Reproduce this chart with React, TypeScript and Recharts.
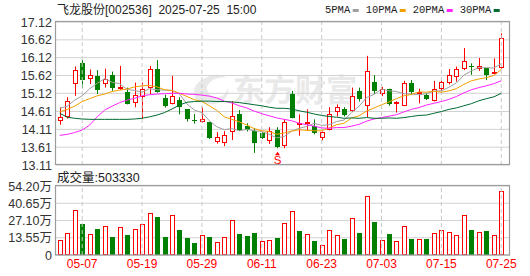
import React from "react";
import {
  ComposedChart,
  Bar,
  Line,
  XAxis,
  YAxis,
  CartesianGrid,
  ReferenceLine,
} from "recharts";

const dates = [
  "04-29", "04-30", "05-06", "05-07", "05-08", "05-09", "05-12", "05-13", "05-14", "05-15",
  "05-16", "05-19", "05-20", "05-21", "05-22", "05-23", "05-26", "05-27", "05-28", "05-29",
  "05-30", "06-03", "06-04", "06-05", "06-06", "06-09", "06-10", "06-11", "06-12", "06-13",
  "06-16", "06-17", "06-18", "06-19", "06-20", "06-23", "06-24", "06-25", "06-26", "06-27",
  "06-30", "07-01", "07-02", "07-03", "07-04", "07-07", "07-08", "07-09", "07-10", "07-11",
  "07-14", "07-15", "07-16", "07-17", "07-18", "07-21", "07-22", "07-23", "07-24", "07-25",
];

const opens = [
  14.34, 14.46, 15.37, 15.97, 15.51, 15.61, 15.37, 15.63, 15.28, 15.16,
  14.84, 15.03, 15.28, 15.79, 14.98, 14.83, 14.93, 14.67, 14.37, 14.31,
  14.31, 13.75, 13.74, 14.03, 14.53, 14.19, 14.06, 14.0, 13.79, 14.09,
  13.64, 15.1, 14.23, 14.25, 14.19, 13.86, 14.09, 14.59, 14.67, 14.62,
  15.19, 14.77, 15.44, 15.1, 15.23, 14.81, 14.77, 15.4, 15.12, 15.08,
  14.9, 15.23, 15.4, 15.57, 15.79, 15.9, 15.81, 15.82, 15.68, 15.82,
];

const highs = [
  14.73, 15.01, 15.87, 16.05, 15.79, 15.77, 15.81, 15.73, 15.89, 15.28,
  15.42, 15.42, 15.89, 16.05, 15.08, 15.61, 15.01, 14.68, 14.54, 14.73,
  14.32, 14.03, 14.06, 14.9, 14.65, 14.28, 14.14, 14.03, 14.17, 14.17,
  14.39, 15.19, 14.53, 14.67, 14.39, 14.05, 14.73, 14.81, 14.73, 15.28,
  15.28, 16.17, 15.63, 15.3, 15.25, 14.9, 15.47, 15.49, 15.25, 15.13,
  15.47, 15.5, 15.8, 15.87, 16.39, 15.96, 16.11, 15.83, 16.1, 16.8,
];

const lows = [
  14.24, 14.41, 15.05, 15.26, 15.38, 15.1, 15.28, 15.19, 15.21, 14.81,
  14.73, 14.41, 15.1, 15.14, 14.72, 14.81, 14.53, 14.33, 14.27, 14.3,
  13.84, 13.71, 13.64, 13.81, 14.06, 14.05, 13.45, 13.84, 13.7, 13.58,
  13.58, 14.42, 13.93, 14.09, 13.97, 13.8, 14.08, 14.47, 14.47, 14.6,
  14.89, 14.45, 15.1, 15.04, 14.77, 14.58, 14.76, 15.1, 14.84, 14.93,
  14.89, 15.19, 15.37, 15.45, 15.77, 15.64, 15.75, 15.49, 15.66, 15.81,
];

const closes = [
  14.45, 14.9, 15.77, 15.49, 15.63, 15.22, 15.52, 15.27, 15.31, 14.83,
  15.08, 15.25, 15.79, 15.17, 14.77, 15.04, 14.73, 14.39, 14.34, 14.4,
  13.88, 13.9, 13.96, 14.49, 14.1, 14.08, 13.72, 13.87, 14.06, 13.61,
  14.31, 14.44, 14.29, 14.32, 14.02, 14.04, 14.55, 14.73, 14.51, 15.05,
  14.96, 15.74, 15.19, 15.25, 14.81, 14.88, 15.4, 15.15, 15.17, 14.95,
  15.25, 15.45, 15.63, 15.79, 16.02, 15.86, 15.88, 15.64, 15.73, 16.66,
];

const volumes = [
  120000, 172000, 354000, 245000, 164000, 206000, 227000, 143000, 219000, 159000,
  206000, 242000, 328000, 300000, 143000, 313000, 198000, 136000, 96000, 156000,
  143000, 104000, 141000, 274000, 167000, 151000, 175000, 109000, 120000, 136000,
  250000, 344000, 190000, 164000, 112000, 78000, 195000, 156000, 128000, 289000,
  175000, 461000, 261000, 117000, 164000, 109000, 227000, 128000, 125000, 122000,
  172000, 195000, 180000, 156000, 313000, 198000, 180000, 190000, 156000, 503330,
];

const ma5 = [
  14.7, 14.76, 14.93, 15.05, 15.25, 15.4, 15.53, 15.43, 15.39, 15.23,
  15.2, 15.15, 15.25, 15.22, 15.21, 15.2, 15.1, 14.82, 14.65, 14.58,
  14.35, 14.18, 14.1, 14.13, 14.07, 14.11, 14.07, 14.05, 13.97, 13.87,
  13.91, 14.06, 14.14, 14.19, 14.28, 14.22, 14.24, 14.33, 14.37, 14.58,
  14.76, 15.0, 15.09, 15.24, 15.19, 15.17, 15.11, 15.1, 15.08, 15.11,
  15.18, 15.19, 15.29, 15.41, 15.63, 15.75, 15.84, 15.84, 15.83, 15.95,
];

const ma10 = [
  14.6, 14.67, 14.76, 14.89, 14.97, 15.05, 15.1, 15.17, 15.21, 15.24,
  15.3, 15.33, 15.34, 15.3, 15.22, 15.2, 15.12, 15.03, 14.94, 14.89,
  14.77, 14.64, 14.46, 14.39, 14.32, 14.23, 14.13, 14.07, 14.05, 13.97,
  14.01, 14.06, 14.1, 14.08, 14.07, 14.07, 14.15, 14.24, 14.28, 14.43,
  14.49, 14.62, 14.71, 14.8, 14.88, 14.97, 15.05, 15.09, 15.16, 15.15,
  15.18, 15.15, 15.19, 15.25, 15.37, 15.47, 15.52, 15.56, 15.62, 15.79,
];

const ma20 = [
  13.94, 13.97, 14.02, 14.09, 14.23, 14.46, 14.65, 14.76, 14.86, 14.93,
  14.98, 15.05, 15.08, 15.1, 15.11, 15.12, 15.12, 15.1, 15.09, 15.07,
  15.04, 14.99, 14.9, 14.85, 14.77, 14.71, 14.62, 14.55, 14.49, 14.43,
  14.39, 14.35, 14.28, 14.24, 14.2, 14.15, 14.14, 14.16, 14.16, 14.2,
  14.25, 14.34, 14.4, 14.44, 14.48, 14.52, 14.6, 14.67, 14.72, 14.79,
  14.84, 14.89, 14.95, 15.03, 15.13, 15.22, 15.28, 15.33, 15.39, 15.47,
];

const ma30 = [
  14.56, 14.45, 14.42, 14.4, 14.39, 14.39, 14.39, 14.39, 14.39, 14.39,
  14.4, 14.42, 14.46, 14.51, 14.58, 14.68, 14.79, 14.87, 14.89, 14.9,
  14.9, 14.89, 14.89, 14.88, 14.86, 14.83, 14.8, 14.77, 14.73, 14.7,
  14.7, 14.68, 14.63, 14.59, 14.54, 14.5, 14.47, 14.45, 14.42, 14.43,
  14.42, 14.44, 14.42, 14.42, 14.43, 14.42, 14.44, 14.47, 14.5, 14.51,
  14.56, 14.61, 14.67, 14.71, 14.77, 14.83, 14.91, 14.97, 15.02, 15.12,
];

const priceTicks = [13.11, 13.61, 14.11, 14.61, 15.12, 15.62, 16.12, 16.62, 17.12];
const volTicks = [0, 135500, 271000, 406500, 542000];
const volTickLabels = ["0", "13.55万", "27.10万", "40.65万", "54.20万"];
const dateLabels = ["05-07", "05-19", "05-29", "06-11", "06-23", "07-03", "07-15", "07-25"];
const signals: Record<string, string> = { "06-13": "S" };

const maSeries = [
  { key: "ma5", name: "5PMA", color: "#a0a0a0" },
  { key: "ma10", name: "10PMA", color: "#f2a000" },
  { key: "ma20", name: "20PMA", color: "#ff22ff" },
  { key: "ma30", name: "30PMA", color: "#006b30" },
];

const RED = "#ff0000";
const GREEN = "#008000";
const GRID = "#d2d2d2";
const FONT = "'Liberation Sans', 'Noto Sans CJK SC', sans-serif";

const data = dates.map((d, i) => ({
  date: d,
  open: opens[i],
  high: highs[i],
  low: lows[i],
  close: closes[i],
  range: [lows[i], highs[i]],
  vol: volumes[i],
  volUp: i === 0 ? closes[i] >= opens[i] : closes[i] >= closes[i - 1],
  ma5: ma5[i],
  ma10: ma10[i],
  ma20: ma20[i],
  ma30: ma30[i],
  signal: signals[d],
}));

function Candle(props: any) {
  const { x, y, width, height, payload } = props;
  if (x == null || y == null) return null;
  const top = Math.min(y, y + height);
  const h = Math.abs(height);
  const { open, close, high, low } = payload;
  const py = (v: number) => top + ((high - v) / (high - low)) * h;
  const cx = Math.round(x + width / 2) + 0.5;
  const up = close >= open;
  const color = up ? RED : GREEN;
  const bTop = Math.round(py(Math.max(open, close)));
  const bBot = Math.round(py(Math.min(open, close)));
  const left = cx - 2.5;
  const low_y = top + h;
  return (
    <g>
      <line x1={cx} x2={cx} y1={top} y2={low_y} stroke={color} strokeWidth={1} />
      {up ? (
        <rect
          x={left + 0.5}
          y={bTop + 0.5}
          width={4}
          height={Math.max(bBot - bTop - 1, 1)}
          fill="#ffffff"
          stroke={color}
          strokeWidth={1}
        />
      ) : (
        <rect x={left} y={bTop} width={5} height={Math.max(bBot - bTop, 1)} fill={color} />
      )}
      {payload.signal && (
        <g>
          <path d={`M${cx - 2.5},${low_y + 7} L${cx + 2.5},${low_y + 7} L${cx},${low_y + 3.5} Z`} fill={RED} />
          <text x={cx} y={low_y + 16} textAnchor="middle" fontSize={11.5} fill={RED} fontFamily={FONT}>
            {payload.signal}
          </text>
        </g>
      )}
    </g>
  );
}

function VolBar(props: any) {
  const { x, y, width, height, payload } = props;
  if (x == null || y == null) return null;
  const cx = Math.round(x + width / 2) + 0.5;
  const left = cx - 2.5;
  const top = Math.round(y);
  const bottom = Math.round(y + height);
  if (payload.volUp) {
    return (
      <rect x={left + 0.5} y={top + 0.5} width={4} height={Math.max(bottom - top - 1, 1)} fill="#ffffff" stroke={RED} strokeWidth={1} />
    );
  }
  return <rect x={left} y={top} width={5} height={bottom - top} fill={GREEN} />;
}

function PriceTick(props: any) {
  const { y, payload } = props;
  return (
    <text x={52} y={y} dy={4.5} textAnchor="end" fontSize={12.5} fill="#333" fontFamily={FONT}>
      {payload.value.toFixed(2)}
    </text>
  );
}

function VolTick(props: any) {
  const { y, payload } = props;
  const idx = volTicks.indexOf(payload.value);
  return (
    <text x={52} y={y} dy={4.5} textAnchor="end" fontSize={12.5} fill="#333" fontFamily={FONT}>
      {volTickLabels[idx]}
    </text>
  );
}

function DateTick(props: any) {
  const { x, y, payload } = props;
  if (!dateLabels.includes(payload.value)) return <g />;
  return (
    <text x={x} y={y} dy={13} textAnchor="middle" fontSize={12} fill={RED} fontFamily={FONT}>
      {payload.value}
    </text>
  );
}

export default function App() {
  let lx = 325;
  const legendItems = maSeries.map((s) => {
    const w = s.name.length * 6.3;
    const item = { ...s, x: lx, sx: lx + w + 2.5 };
    lx += w + 2.5 + 6 + 7;
    return item;
  });

  return (
    <div style={{ position: "absolute", left: 0, top: 0, width: 530, height: 276, background: "#fff", overflow: "hidden" }}>
      <svg width={530} height={276} style={{ position: "absolute", left: 0, top: 0 }}>
        <g fill="#e9e9e9">
          <path d="M196,100 C190,88 198,78 214,76 C206,82 204,90 212,96 C218,100 226,96 228,88 C230,98 220,106 206,104 Z" />
          <path d="M200,84 C206,74 220,72 226,78 C218,76 210,80 206,88 Z" />
        </g>
        <text x={233} y={101} fontSize={31} fontWeight="bold" fill="#e9e9e9" fontFamily="'Noto Sans CJK SC', sans-serif">
          东方财富
        </text>
        <text x={57} y={13.5} fontSize={12} fill="#222" fontFamily={FONT} style={{ whiteSpace: "pre" }}>
          {"飞龙股份[002536]  2025-07-25  15:00"}
        </text>
        {legendItems.map((it) => (
          <g key={it.key}>
            <text x={it.x} y={13} fontSize={10.5} fill="#222" fontFamily="'Liberation Mono', monospace">
              {it.name}
            </text>
            <rect x={it.sx} y={9} width={6} height={3} fill={it.color} />
          </g>
        ))}
        <text x={57} y={182} fontSize={12.5} fill="#222" fontFamily={FONT}>
          {"成交量:" + volumes[volumes.length - 1]}
        </text>
      </svg>

      <div style={{ position: "absolute", left: 0, top: 0 }}>
        <ComposedChart width={530} height={178} data={data} margin={{ top: 22, right: 20, bottom: 13, left: 0 }}>
          <CartesianGrid vertical={false} stroke={GRID} />
          <XAxis dataKey="date" hide padding={{ left: 0, right: 5 }} />
          <YAxis
            width={56}
            domain={[13.11, 17.12]}
            ticks={priceTicks}
            interval={0}
            allowDataOverflow
            axisLine={false}
            tickLine={false}
            tick={<PriceTick />}
          />
          {dateLabels.map((d) => (
            <ReferenceLine key={d} x={d} stroke="#c8c8c8" strokeDasharray="4 3" />
          ))}
          <Bar dataKey="range" shape={<Candle />} isAnimationActive={false} />
          {maSeries.map((s) => (
            <Line
              key={s.key}
              dataKey={s.key}
              stroke={s.color}
              strokeWidth={1}
              dot={false}
              type="linear"
              isAnimationActive={false}
            />
          ))}
        </ComposedChart>
      </div>

      <div style={{ position: "absolute", left: 0, top: 170 }}>
        <ComposedChart width={530} height={106} data={data} margin={{ top: 16, right: 20, bottom: 0, left: 0 }}>
          <CartesianGrid vertical={false} stroke={GRID} />
          <XAxis
            dataKey="date"
            height={21}
            interval={0}
            axisLine={false}
            tickLine={false}
            tickSize={0}
            tickMargin={0}
            padding={{ left: 0, right: 5 }}
            tick={<DateTick />}
          />
          <YAxis
            width={56}
            domain={[0, 542000]}
            ticks={volTicks}
            interval={0}
            allowDataOverflow
            axisLine={false}
            tickLine={false}
            tick={<VolTick />}
          />
          {dateLabels.map((d) => (
            <ReferenceLine key={d} x={d} stroke="#c8c8c8" strokeDasharray="4 3" />
          ))}
          <Bar dataKey="vol" shape={<VolBar />} isAnimationActive={false} />
        </ComposedChart>
      </div>

      <svg width={530} height={276} style={{ position: "absolute", left: 0, top: 0, pointerEvents: "none" }}>
        <rect x={55.5} y={21.5} width={454} height={143} fill="none" stroke="#9c9c9c" strokeWidth={1.2} />
        <rect x={55.5} y={185.5} width={454} height={69.5} fill="none" stroke="#9c9c9c" strokeWidth={1.2} />
      </svg>
    </div>
  );
}
